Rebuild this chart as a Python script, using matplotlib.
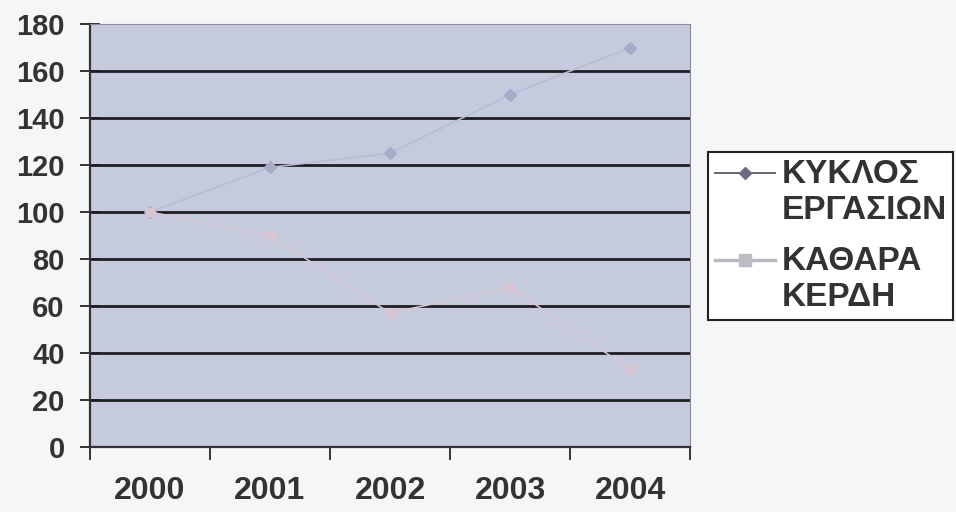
import numpy as np
import matplotlib.pyplot as plt
from matplotlib.lines import Line2D
from matplotlib.legend_handler import HandlerLine2D

years = ['2000', '2001', '2002', '2003', '2004']
kyklos = [100, 119, 125, 150, 170]   # ΚΥΚΛΟΣ ΕΡΓΑΣΙΩΝ
kerdi = [100, 90, 57, 68, 33]        # ΚΑΘΑΡΑ ΚΕΡΔΗ
yticks = list(range(0, 181, 20))

plt.rcParams['font.family'] = ['Liberation Sans', 'DejaVu Sans']
plt.rcParams['font.weight'] = 'bold'


class TopLineHandler(HandlerLine2D):
    # put the legend sample next to the first line of a two-line label
    def create_artists(self, legend, orig_handle, xdescent, ydescent, width, height, fontsize, trans):
        arts = super().create_artists(legend, orig_handle, xdescent, ydescent, width, height, fontsize, trans)
        for a in arts:
            a.set_ydata(np.asarray(a.get_ydata()) + 0.6 * fontsize)
        return arts


fig = plt.figure(figsize=(9.56, 5.12), dpi=100, facecolor='#f5f6f8')
ax = fig.add_axes([0.094, 0.127, 0.628, 0.826])
ax.set_facecolor('#c6cadd')

x = np.arange(len(years))
# faint series lines, drawn over the grid like in the scan
ax.plot(x, kyklos, color='#b8bdd5', lw=1.2, marker='D', ms=6, mfc='#a6abc8', mec='#a6abc8', zorder=3)
ax.plot(x, kerdi, color='#d8c6d3', lw=1.2, marker='s', ms=6, mfc='#d8c6d4', mec='#d8c6d4', zorder=3)

ax.set_ylim(0, 180)
ax.set_yticks(yticks)
ax.set_yticklabels([str(v) for v in yticks], fontsize=21, fontweight='bold', color='#333333')
ax.set_xlim(-0.5, len(years) - 0.5)
ax.set_xticks(np.arange(-0.5, len(years)))
ax.set_xticklabels([])
ax.set_xticks(x, minor=True)
ax.set_xticklabels(years, minor=True, fontsize=23, fontweight='bold', color='#333333')
ax.tick_params(axis='x', which='minor', length=0, pad=21)
ax.tick_params(axis='x', which='major', direction='out', length=9, width=1.4, color='#333333')
ax.tick_params(axis='y', direction='inout', length=14, width=1.4, color='#333333', pad=11)

for v in yticks[1:-1]:
    ax.axhline(v, color='#1e1e22', lw=2, zorder=2)

ax.spines['left'].set_color('#333333')
ax.spines['left'].set_linewidth(1.6)
ax.spines['bottom'].set_color('#333333')
ax.spines['bottom'].set_linewidth(1.6)
ax.spines['top'].set_color('#8c8c98')
ax.spines['right'].set_color('#8c8c98')

h1 = Line2D([], [], color='#5a5a6a', lw=1.3, marker='D', ms=6, mfc='#6a6a80', mec='#6a6a80')
h2 = Line2D([], [], color='#b8b8c0', lw=2.5, marker='s', ms=9, mfc='#bcbcc4', mec='#bcbcc4')
leg = fig.legend([h1, h2], ['ΚΥΚΛΟΣ\nΕΡΓΑΣΙΩΝ', 'ΚΑΘΑΡΑ\nΚΕΡΔΗ'],
                 loc='upper left', bbox_to_anchor=(0.7406, 0.703), borderaxespad=0,
                 prop={'size': 24, 'weight': 'bold'}, frameon=True, fancybox=False,
                 edgecolor='#222222', facecolor='white', framealpha=1,
                 handlelength=1.8, handletextpad=0.2, labelspacing=0.6, borderpad=0.2,
                 handler_map={h1: TopLineHandler(), h2: TopLineHandler()})
leg.get_frame().set_linewidth(1.5)
for t in leg.get_texts():
    t.set_color('#333333')
    t.set_linespacing(1.22)

fig.savefig('out.png', dpi=100, facecolor=fig.get_facecolor())
